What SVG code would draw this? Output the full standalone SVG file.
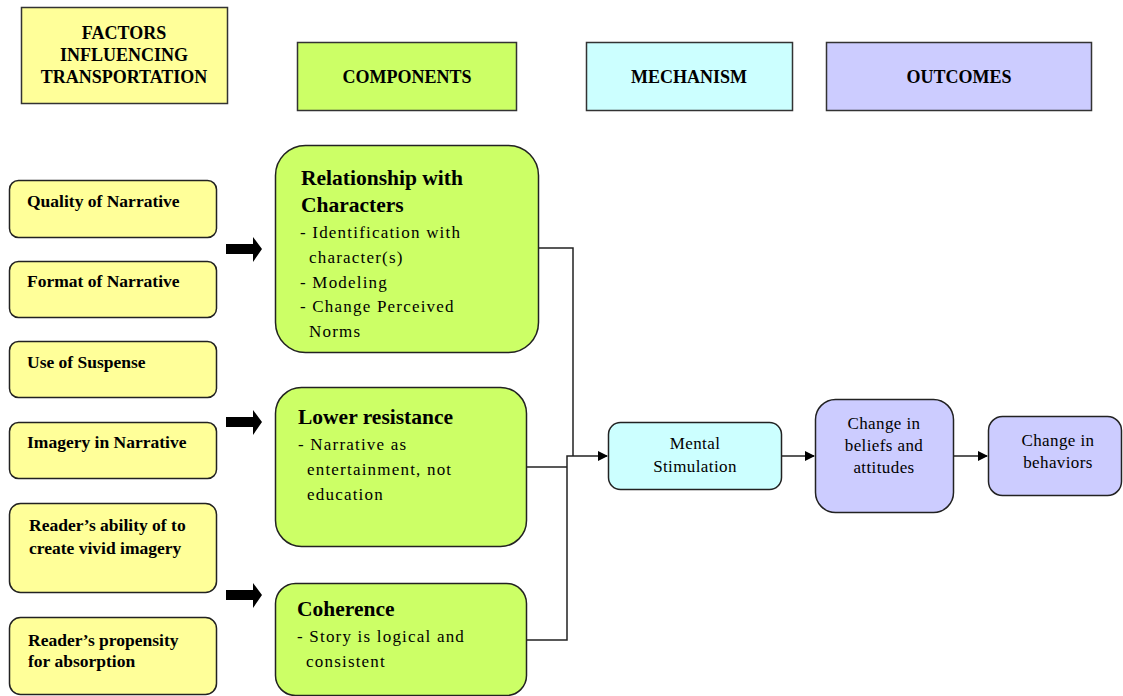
<svg xmlns="http://www.w3.org/2000/svg" width="1123" height="696" viewBox="0 0 1123 696" font-family="Liberation Serif, DejaVu Serif, serif">
<style>
.hdr{stroke:#333;stroke-width:1.5}
.box{stroke:#222;stroke-width:1.5}
.y{fill:#ffff99}.g{fill:#ccff66}.c{fill:#ccffff}.p{fill:#ccccff}
text{fill:#000}
.ht{font-weight:bold;font-size:18px}
.ft{font-weight:bold;font-size:17.5px}
.tt{font-weight:bold;font-size:21.5px}
.bt{font-size:17px;letter-spacing:1.2px}
.mt{font-size:17px;letter-spacing:0.4px}
.conn{fill:none;stroke:#222;stroke-width:1.5}
.blk{fill:#000}
</style>
<defs>
<marker id="ah" markerWidth="10" markerHeight="10" refX="9" refY="5" orient="auto" markerUnits="userSpaceOnUse">
<path d="M0,0 L10,5 L0,10 z" fill="#000"/>
</marker>
</defs>
<rect width="1123" height="696" fill="#fff"/>

<g id="hdr-factors">
<rect class="hdr y" x="21.5" y="7.5" width="206" height="96"/>
<text class="ht" text-anchor="middle" x="124" y="39">FACTORS</text>
<text class="ht" text-anchor="middle" x="124" y="61">INFLUENCING</text>
<text class="ht" text-anchor="middle" x="124" y="83">TRANSPORTATION</text>
</g>
<g id="hdr-components">
<rect class="hdr g" x="297.5" y="42.5" width="219" height="68"/>
<text class="ht" text-anchor="middle" x="407" y="83">COMPONENTS</text>
</g>
<g id="hdr-mechanism">
<rect class="hdr c" x="586.5" y="42.5" width="206" height="68"/>
<text class="ht" text-anchor="middle" x="689" y="83">MECHANISM</text>
</g>
<g id="hdr-outcomes">
<rect class="hdr p" x="826.5" y="42.5" width="265" height="68"/>
<text class="ht" text-anchor="middle" x="959" y="83">OUTCOMES</text>
</g>

<g id="f-quality">
<rect class="box y" x="9.5" y="180.5" width="207" height="57" rx="9"/>
<text class="ft" x="27" y="207">Quality of Narrative</text>
</g>
<g id="f-format">
<rect class="box y" x="9.5" y="261.5" width="207" height="56" rx="9"/>
<text class="ft" x="27" y="287">Format of Narrative</text>
</g>
<g id="f-suspense">
<rect class="box y" x="9.5" y="341.5" width="207" height="56" rx="9"/>
<text class="ft" x="27" y="368">Use of Suspense</text>
</g>
<g id="f-imagery">
<rect class="box y" x="9.5" y="422.5" width="207" height="56" rx="9"/>
<text class="ft" x="27" y="448">Imagery in Narrative</text>
</g>
<g id="f-ability">
<rect class="box y" x="9.5" y="503.5" width="207" height="89" rx="11"/>
<text class="ft" x="29" y="531">Reader’s ability of to</text>
<text class="ft" x="29" y="554">create vivid imagery</text>
</g>
<g id="f-propensity">
<rect class="box y" x="9.5" y="617.5" width="207" height="77" rx="11"/>
<text class="ft" x="28" y="646">Reader’s propensity</text>
<text class="ft" x="28" y="667">for absorption</text>
</g>

<g id="arrows-block">
<path class="blk" d="M226,244 H253 V237 L262,249 L253,262 V254 H226 z"/>
<path class="blk" d="M226,417 H253 V410 L262,422 L253,435 V427 H226 z"/>
<path class="blk" d="M226,590 H253 V583 L262,595 L253,608 V600 H226 z"/>
</g>

<g id="c-relationship">
<rect class="box g" x="275.5" y="145.5" width="263" height="207" rx="30"/>
<text class="tt" x="301" y="185">Relationship with</text>
<text class="tt" x="301" y="212">Characters</text>
<text class="bt" x="300" y="238">- Identification with</text>
<text class="bt" x="309" y="263">character(s)</text>
<text class="bt" x="300" y="288">- Modeling</text>
<text class="bt" x="300" y="312">- Change Perceived</text>
<text class="bt" x="309" y="337">Norms</text>
</g>
<g id="c-resistance">
<rect class="box g" x="275.5" y="387.5" width="251" height="159" rx="26"/>
<text class="tt" x="298" y="424">Lower resistance</text>
<text class="bt" x="298" y="450">- Narrative as</text>
<text class="bt" x="307" y="475">entertainment, not</text>
<text class="bt" x="307" y="500">education</text>
</g>
<g id="c-coherence">
<rect class="box g" x="275.5" y="583.5" width="251" height="112" rx="20"/>
<text class="tt" x="297" y="616">Coherence</text>
<text class="bt" x="297" y="642">- Story is logical and</text>
<text class="bt" x="306" y="667">consistent</text>
</g>

<g id="m-mental">
<rect class="box c" x="608.5" y="422.5" width="173" height="67" rx="12"/>
<text class="mt" text-anchor="middle" x="695" y="449">Mental</text>
<text class="mt" text-anchor="middle" x="695" y="472">Stimulation</text>
</g>
<g id="o-beliefs">
<rect class="box p" x="815.5" y="399.5" width="138" height="113" rx="20"/>
<text class="mt" text-anchor="middle" x="884" y="429">Change in</text>
<text class="mt" text-anchor="middle" x="884" y="451">beliefs and</text>
<text class="mt" text-anchor="middle" x="884" y="473">attitudes</text>
</g>
<g id="o-behaviors">
<rect class="box p" x="988.5" y="416.5" width="133" height="79" rx="14"/>
<text class="mt" text-anchor="middle" x="1058" y="446">Change in</text>
<text class="mt" text-anchor="middle" x="1058" y="468">behaviors</text>
</g>

<g id="connectors">
<polyline class="conn" points="539,248 573,248 573,456"/>
<polyline class="conn" points="527,467 567,467"/>
<polyline class="conn" points="527,640 567,640 567,456 607,456" marker-end="url(#ah)"/>
<line class="conn" x1="782" y1="456" x2="814" y2="456" marker-end="url(#ah)"/>
<line class="conn" x1="954" y1="456" x2="987" y2="456" marker-end="url(#ah)"/>
</g>
</svg>
